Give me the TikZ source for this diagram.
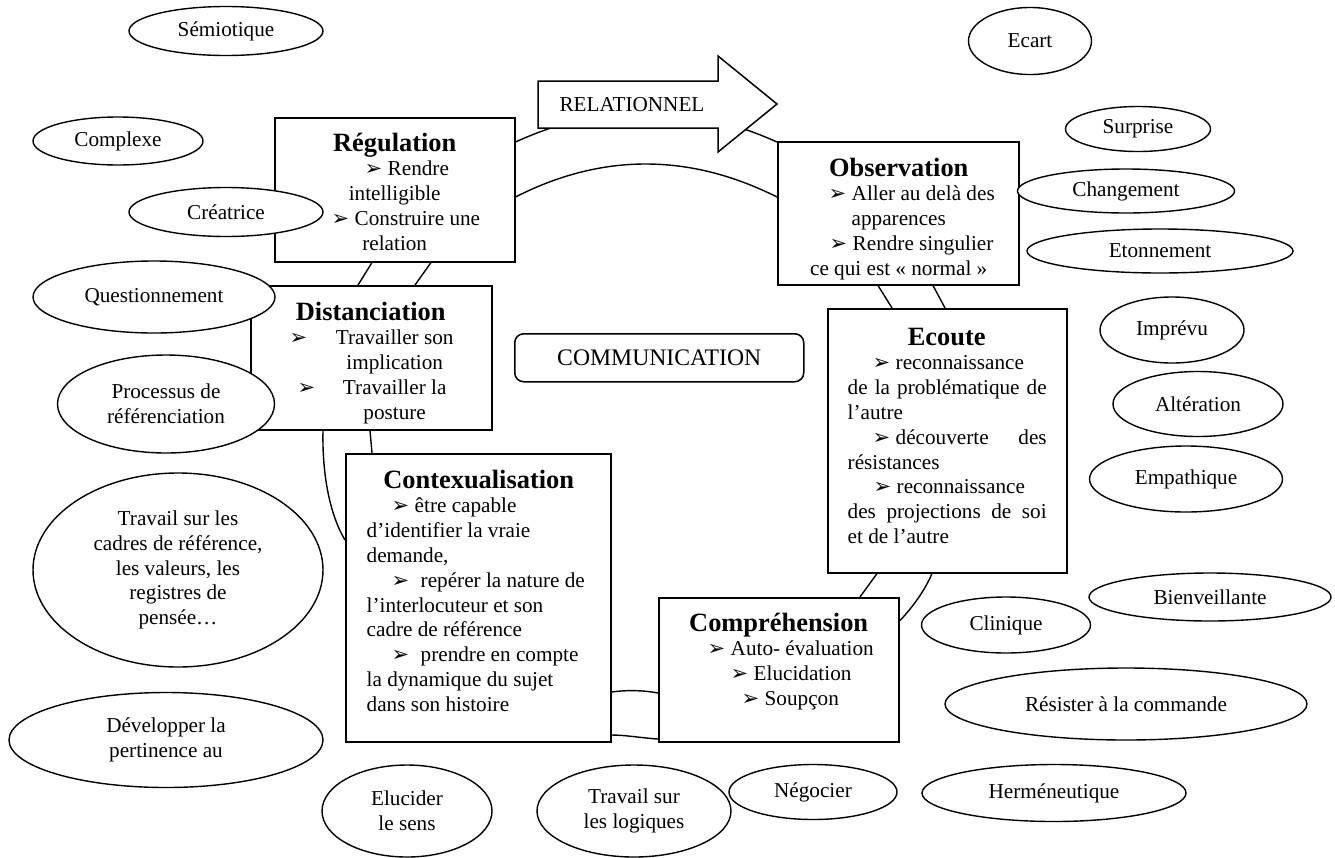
\documentclass[tikz,border=0pt]{standalone}
\usepackage{fontspec}
\setmainfont{Liberation Serif}
\newfontfamily\arfont{DejaVu Sans}
\usetikzlibrary{shapes.geometric,calc}

% text sizes
\newcommand\bodysize{\fontsize{21.2}{24.8}\selectfont}
\newcommand\hd{\fontsize{26.4}{28}\selectfont\bfseries}
% bullet arrowhead, followed by the item text
\newcommand\ar{\makebox[23pt][l]{\fontsize{21}{21}\selectfont\arfont ➢}}
% pieces of a text line: left-aligned, centred, or justified to a width
\newcommand\atL[2]{\rlap{\hskip#1pt\relax#2}}
\newcommand\atC[2]{\rlap{\hskip#1pt\relax\hbox to 0pt{\hss#2\hss}}}
\newcommand\atJ[3]{\rlap{\hskip#1pt\relax\hbox to #2pt{#3}}}
\newcommand\Ln[1]{\hbox{#1}}
\newcommand\Blk[1]{\vtop{\baselineskip=24.8pt\lineskiplimit=-100pt\lineskip=0pt #1}}

\tikzset{
  box/.style={draw, rectangle, line width=1.5pt, fill=white, inner sep=0pt, anchor=north west},
  oval/.style={draw, ellipse, line width=1.4pt, fill=white, inner sep=0pt, align=center, font=\bodysize},
  blk/.style={inner sep=0pt, anchor=base west, font=\bodysize},
  link/.style={line width=1.4pt},
}

\begin{document}
\begin{tikzpicture}[x=1pt, y=-1pt]
\fill[white] (0,0) rectangle (1335,857);
\useasboundingbox (0,0) rectangle (1335,857);

% ---- the six stages ----
\node[box, minimum width=240pt, minimum height=144pt] (reg)  at (274,117) {};
\node[box, minimum width=241pt, minimum height=143pt] (obs)  at (777,141) {};
\node[box, minimum width=241pt, minimum height=144pt] (dist) at (250,285) {};
\node[box, minimum width=239pt, minimum height=264pt] (ecou) at (827,308) {};
\node[box, minimum width=265pt, minimum height=288pt] (ctx)  at (345,453) {};
\node[box, minimum width=240pt, minimum height=144pt] (comp) at (658,597) {};
\node[box, rounded corners=9pt, minimum width=289pt, minimum height=48pt,
      font=\fontsize{23.7}{26}\selectfont] (comm) at (514,333) {COMMUNICATION};

% ---- links between stages ----
\draw[link] ($(reg.north east)+(0,25)$) .. controls (601.7,102.5) and (689.3,102.5) .. ($(obs.north west)+(0,1)$);
\draw[link] ($(reg.north east)+(0,80)$) .. controls (601.7,153) and (689.3,153) .. ($(obs.north west)+(0,56)$);
\draw[link] ($(reg.south west)+(98,0)$) -- ($(dist.north west)+(108,0)$);
\draw[link] ($(reg.south west)+(157,0)$) -- ($(dist.north west)+(165,0)$);
\draw[link] ($(obs.south west)+(101,0)$) -- ($(ecou.north west)+(65,0)$);
\draw[link] ($(obs.south west)+(156,0)$) -- ($(ecou.north west)+(118,0)$);
\draw[link] ($(dist.south west)+(120,0)$) -- ($(ctx.north west)+(27,0)$);
\draw[link] ($(dist.south west)+(73,0)$) .. controls (322,475) and (330,515) .. ($(ctx.north west)+(0,87)$);
\draw[link] ($(ctx.north east)+(0,239)$) .. controls (626,690) and (642,690) .. ($(comp.north west)+(0,96)$);
\draw[link] ($(ctx.north east)+(0,282)$) .. controls (626,735) and (642,738) .. ($(comp.north west)+(0,142)$);
\draw[link] ($(ecou.south west)+(50,0)$) -- ($(comp.north west)+(202,0)$);
\draw[link] ($(ecou.south west)+(105,0)$) .. controls (926,588) and (914,606) .. ($(comp.north east)+(0,24)$);

% ---- block arrow ----
\draw[line width=1.5pt, fill=white, line join=miter]
  (538,81) -- (718,81) -- (718,56) -- (777,104) -- (718,152) -- (718,128) -- (538,128) -- cycle;
\node[font=\bodysize, inner sep=0pt] (rel) at (632,105) {RELATIONNEL};

% ---- stage texts ----
\node[blk] (regtxt) at (274,151) {\Blk{
  \Ln{\atC{120}{\hd Régulation}}
  \Ln{\atL{90}{\ar Rendre}}
  \Ln{\atC{120}{intelligible}}
  \Ln{\atL{57}{\ar Construire une}}
  \Ln{\atC{120}{relation}}}};

\node[blk] (disttxt) at (250,320) {\Blk{
  \Ln{\atC{120}{\hd Distanciation}}
  \Ln{\atL{39}{\ar}\atC{144}{Travailler son}}
  \Ln{\atC{144}{implication}}
  \Ln{\atL{47}{\ar}\atC{144}{Travailler la}}
  \Ln{\atC{144}{posture}}}};

\node[blk] (obstxt) at (777,176) {\Blk{
  \Ln{\atC{121}{\hd Observation}}
  \Ln{\atL{51}{\ar Aller au delà des}}
  \Ln{\atL{74}{apparences}}
  \Ln{\atL{52}{\ar Rendre singulier}}
  \Ln{\atC{121}{ce qui est « normal »}}}};

\node[blk] (ecoutxt) at (827,345) {\Blk{
  \Ln{\atC{119}{\hd Ecoute}}
  \Ln{\atL{45}{\ar reconnaissance}}
  \Ln{\atJ{20}{199}{de\hfill la\hfill problématique\hfill de}}
  \Ln{\atL{20}{l’autre}}
  \Ln{\atL{45}{\ar}\atJ{68}{151}{découverte\hfill des}}
  \Ln{\atL{20}{résistances}}
  \Ln{\atL{46}{\ar reconnaissance}}
  \Ln{\atJ{20}{199}{des\hfill projections\hfill de\hfill soi}}
  \Ln{\atL{20}{et de l’autre}}}};

\node[blk] (ctxtxt) at (345,488) {\Blk{
  \Ln{\atC{133}{\hd Contexualisation}}
  \Ln{\atL{46}{\ar être capable}}
  \Ln{\atL{21}{d’identifier la vraie}}
  \Ln{\atL{21}{demande,}}
  \Ln{\atL{46}{\ar\hspace{6pt}repérer la nature de}}
  \Ln{\atL{21}{l’interlocuteur et son}}
  \Ln{\atL{21}{cadre de référence}}
  \Ln{\atL{46}{\ar\hspace{6pt}prendre en compte}}
  \Ln{\atL{21}{la dynamique du sujet}}
  \Ln{\atL{21}{dans son histoire}}}};

\node[blk] (comptxt) at (658,631) {\Blk{
  \Ln{\atC{120}{\hd Compréhension}}
  \Ln{\atL{49}{\ar Auto- évaluation}}
  \Ln{\atL{72}{\ar Elucidation}}
  \Ln{\atL{83}{\ar Soupçon}}}};

% ---- qualities around the cycle ----
\node[oval, minimum width=194pt, minimum height=49pt] (semio)     at (226,31)   {Sémiotique};
\node[oval, minimum width=170pt, minimum height=48pt] (complexe)  at (118,141)  {Complexe};
\node[oval, minimum width=194pt, minimum height=49pt] (creatrice) at (226,212)  {Créatrice};
\node[oval, minimum width=242pt, minimum height=72pt] (question)  at (154,297)  {Questionnement};
\node[oval, minimum width=217pt, minimum height=98pt] (processus) at (166,404)  {Processus de\\référenciation};
\node[oval, minimum width=290pt, minimum height=194pt] (cadres)   at (178,570)  {Travail sur les\\cadres de référence,\\les valeurs, les\\registres de\\pensée…};
\node[oval, minimum width=314pt, minimum height=95pt] (develop)   at (166,740)  {Développer la\\pertinence au};
\node[oval, minimum width=170pt, minimum height=92pt] (elucider)  at (407,811)  {Elucider\\le sens};
\node[oval, minimum width=194pt, minimum height=92pt] (logiques)  at (634,811)  {Travail sur\\les logiques};
\node[oval, minimum width=168pt, minimum height=55pt] (negocier)  at (813,792)  {Négocier};
\node[oval, minimum width=264pt, minimum height=57pt] (hermen)    at (1054,793) {Herméneutique};
\node[oval, minimum width=362pt, minimum height=72pt] (resister)  at (1126,704) {Résister à la commande};
\node[oval, minimum width=169pt, minimum height=56pt] (clinique)  at (1006,625) {Clinique};
\node[oval, minimum width=242pt, minimum height=48pt] (bienv)     at (1210,597) {Bienveillante};
\node[oval, minimum width=193pt, minimum height=66pt] (empath)    at (1186,479) {Empathique};
\node[oval, minimum width=170pt, minimum height=65pt] (alter)     at (1198,404) {Altération};
\node[oval, minimum width=144pt, minimum height=66pt] (imprevu)   at (1172,330) {Imprévu};
\node[oval, minimum width=266pt, minimum height=44pt] (etonn)     at (1160,251) {Etonnement};
\node[oval, minimum width=217pt, minimum height=44pt] (change)    at (1126,191) {Changement};
\node[oval, minimum width=145pt, minimum height=45pt] (surprise)  at (1138,129) {Surprise};
\node[oval, minimum width=123pt, minimum height=67pt] (ecart)     at (1030,41)  {Ecart};
\end{tikzpicture}
\end{document}
